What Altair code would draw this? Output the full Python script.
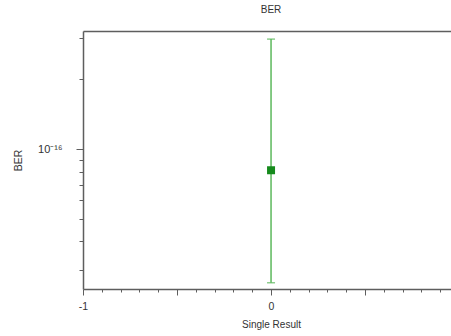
import altair as alt
import pandas as pd

# ---- data ----
categories = ["Single Result"]
x_pos = [0]
ber = [8.1e-17]
ber_low = [2.65e-17]
ber_high = [2.98e-16]

# axis tick positions
x_ticks = [round(-1 + 0.1 * i, 1) for i in range(20)]
y_ticks = [3e-16, 2e-16, 1e-16, 9e-17, 8e-17, 7e-17, 6e-17, 5e-17, 4e-17, 3e-17]

df = pd.DataFrame({"cat": categories, "x": x_pos, "ber": ber, "lo": ber_low, "hi": ber_high})

FONT = "Liberation Sans"
AXIS_COLOR = "#5e5e5e"
TEXT_COLOR = "#333333"

xscale = alt.Scale(domain=[-1, 0.957], nice=False, zero=False)
yscale = alt.Scale(type="log", domain=[2.49e-17, 3.23e-16], nice=False)

x_axis = alt.Axis(
    values=x_ticks,
    labelExpr="abs(datum.value - round(datum.value)) < 0.001 ? toString(round(datum.value)) : ''",
    tickSize={"condition": {"test": "abs(datum.value*2 - round(datum.value*2)) < 0.001", "value": 6}, "value": 3},
    tickColor=AXIS_COLOR,
    tickWidth=1,
    domainColor=AXIS_COLOR,
    domainWidth=1.5,
    labelFont=FONT,
    labelFontSize=10.5,
    labelColor=TEXT_COLOR,
    labelPadding=6,
    labelFlush=False,
    title="Single Result",
    titleFont=FONT,
    titleFontSize=10,
    titleFontWeight="normal",
    titleColor=TEXT_COLOR,
    titlePadding=8,
    titleX=188,
    grid=False,
)

y_axis = alt.Axis(
    values=y_ticks,
    labelExpr="abs(log(datum.value)/LN10 + 16) < 0.01 ? '10\u207b\u00b9\u2076' : ''",
    tickSize={"condition": {"test": "abs(log(datum.value)/LN10 + 16) < 0.01", "value": 7}, "value": 4},
    tickColor=AXIS_COLOR,
    tickWidth=1,
    domainColor=AXIS_COLOR,
    domainWidth=1.5,
    labelFont=FONT,
    labelFontSize=11,
    labelColor=TEXT_COLOR,
    labelPadding=14,
    title="BER",
    titleFont=FONT,
    titleFontSize=10.5,
    titleFontWeight="normal",
    titleColor=TEXT_COLOR,
    titlePadding=14,
    grid=False,
)

top_axis = alt.Axis(
    orient="top", labels=False, ticks=False, title=None,
    domainColor=AXIS_COLOR, domainWidth=1.5, grid=False,
)

base = alt.Chart(df)

rule = base.mark_rule(color="#5cb85c", strokeWidth=1.5).encode(
    x=alt.X("x:Q", scale=xscale, axis=x_axis),
    y=alt.Y("lo:Q", scale=yscale, axis=y_axis),
    y2="hi:Q",
)
cap_lo = base.mark_tick(orient="horizontal", size=8, thickness=1.5, color="#5cb85c").encode(
    x=alt.X("x:Q", scale=xscale, axis=None),
    y=alt.Y("lo:Q", scale=yscale, axis=None),
)
cap_hi = base.mark_tick(orient="horizontal", size=8, thickness=1.5, color="#5cb85c").encode(
    x=alt.X("x:Q", scale=xscale, axis=None),
    y=alt.Y("hi:Q", scale=yscale, axis=None),
)
point = base.mark_square(size=64, color="#158a1c", opacity=1).encode(
    x=alt.X("x:Q", scale=xscale, axis=top_axis),
    y=alt.Y("ber:Q", scale=yscale, axis=None),
)

chart = (
    alt.layer(rule, cap_lo, cap_hi, point)
    .resolve_axis(x="independent", y="independent")
    .properties(
        width=368,
        height=258,
        autosize=alt.AutoSizeParams(type="none"),
        padding={"left": 83, "top": 31, "right": 0, "bottom": 47},
        title=alt.Title("BER", font=FONT, fontSize=10, fontWeight="normal",
                        color=TEXT_COLOR, offset=16, dx=4),
        background="white",
    )
    .configure_view(stroke=None)
)

chart.save("out.html", embed_options={"renderer": "svg", "actions": False})
